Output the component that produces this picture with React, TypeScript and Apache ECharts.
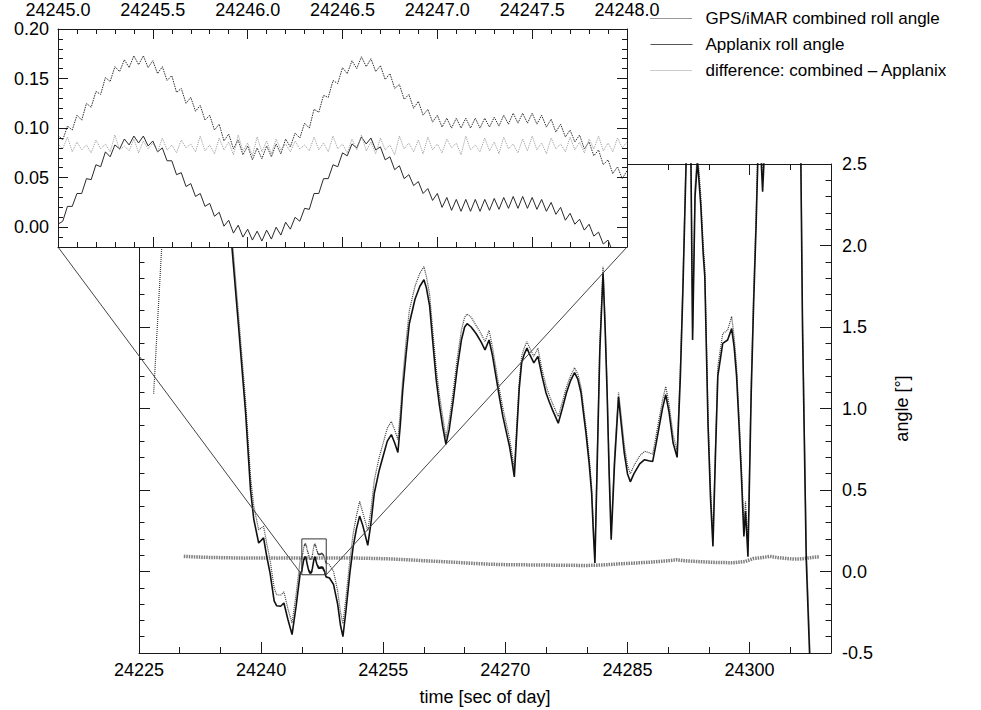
import React, { useEffect, useRef } from "react";
import * as echarts from "echarts";

const FONT = "'Liberation Sans', Arial, Helvetica, sans-serif";

const NAME_COMBINED = "GPS/iMAR combined roll angle";
const NAME_APPLANIX = "Applanix roll angle";
const NAME_DIFF = "difference: combined \u2013 Applanix";

// main plot extents
const TIME_MIN = 24225;
const TIME_MAX = 24310;
const ANGLE_MIN = -0.5;
const ANGLE_MAX = 2.5;

// zoom window shown in the inset
const ZOOM_T0 = 24245.0;
const ZOOM_T1 = 24248.0;
const ZOOM_MIN = -0.02;
const ZOOM_MAX = 0.2;
const ZOOM_STEP = 0.025; // sample spacing of the high-rate data [s]
const zoomAngleTicks = [0, 0.05, 0.1, 0.15, 0.2];

// high-rate samples inside the zoom window, 24245.0 .. 24248.0 s
const zoomCombined = [
  0.093, 0.088, 0.102, 0.098, 0.113, 0.108, 0.125, 0.121, 0.137, 0.134,
  0.151, 0.147, 0.162, 0.157, 0.169, 0.161, 0.173, 0.164, 0.173, 0.161,
  0.168, 0.155, 0.162, 0.148, 0.153, 0.136, 0.140, 0.125, 0.131, 0.117,
  0.123, 0.108, 0.113, 0.098, 0.104, 0.087, 0.094, 0.079, 0.088, 0.073,
  0.082, 0.068, 0.080, 0.069, 0.082, 0.071, 0.084, 0.074, 0.089, 0.081,
  0.095, 0.090, 0.105, 0.100, 0.119, 0.116, 0.133, 0.131, 0.148, 0.145,
  0.161, 0.155, 0.168, 0.160, 0.172, 0.162, 0.170, 0.157, 0.163, 0.149,
  0.155, 0.140, 0.144, 0.129, 0.134, 0.120, 0.127, 0.113, 0.119, 0.106,
  0.113, 0.101, 0.110, 0.100, 0.110, 0.100, 0.110, 0.100, 0.110, 0.100,
  0.110, 0.101, 0.111, 0.102, 0.113, 0.104, 0.115, 0.105, 0.115, 0.105,
  0.115, 0.104, 0.113, 0.101, 0.109, 0.096, 0.104, 0.091, 0.098, 0.086,
  0.093, 0.079, 0.086, 0.072, 0.078, 0.063, 0.068, 0.054, 0.061, 0.049,
  0.057,
];

const zoomApplanix = [
  0.003, 0.006, 0.021, 0.021, 0.034, 0.034, 0.049, 0.048, 0.063, 0.061,
  0.076, 0.071, 0.083, 0.079, 0.089, 0.083, 0.092, 0.085, 0.092, 0.082,
  0.087, 0.076, 0.080, 0.067, 0.067, 0.053, 0.055, 0.041, 0.044, 0.031,
  0.034, 0.021, 0.024, 0.011, 0.015, 0.001, 0.007, -0.006, 0.002, -0.010,
  -0.002, -0.013, -0.004, -0.014, -0.003, -0.012, 0.000, -0.008, 0.005, -0.002,
  0.010, 0.006, 0.019, 0.018, 0.034, 0.034, 0.049, 0.049, 0.063, 0.061,
  0.075, 0.072, 0.084, 0.080, 0.091, 0.084, 0.090, 0.078, 0.081, 0.068,
  0.071, 0.058, 0.062, 0.049, 0.053, 0.042, 0.046, 0.034, 0.039, 0.027,
  0.034, 0.020, 0.030, 0.017, 0.028, 0.016, 0.028, 0.016, 0.028, 0.016,
  0.028, 0.017, 0.029, 0.018, 0.030, 0.019, 0.031, 0.019, 0.031, 0.019,
  0.030, 0.018, 0.028, 0.016, 0.025, 0.013, 0.020, 0.007, 0.014, 0.003,
  0.008, -0.003, 0.003, -0.009, -0.005, -0.017, -0.013, -0.025, -0.021, -0.033,
  -0.029,
];

const zoomDifference = [
  0.084, 0.079, 0.091, 0.076, 0.086, 0.078, 0.083, 0.075, 0.088, 0.079,
  0.084, 0.076, 0.093, 0.078, 0.082, 0.077, 0.089, 0.075, 0.087, 0.079,
  0.085, 0.076, 0.090, 0.078, 0.083, 0.075, 0.088, 0.080, 0.084, 0.076,
  0.092, 0.077, 0.083, 0.074, 0.090, 0.078, 0.086, 0.073, 0.093, 0.077,
  0.085, 0.072, 0.091, 0.076, 0.087, 0.074, 0.089, 0.078, 0.084, 0.076,
  0.087, 0.079, 0.083, 0.077, 0.091, 0.078, 0.085, 0.076, 0.092, 0.079,
  0.084, 0.075, 0.089, 0.078, 0.093, 0.077, 0.086, 0.074, 0.090, 0.078,
  0.083, 0.073, 0.092, 0.079, 0.085, 0.076, 0.088, 0.074, 0.091, 0.078,
  0.084, 0.075, 0.089, 0.080, 0.085, 0.073, 0.092, 0.078, 0.083, 0.076,
  0.090, 0.077, 0.086, 0.074, 0.091, 0.079, 0.084, 0.075, 0.089, 0.077,
  0.092, 0.078, 0.085, 0.074, 0.090, 0.079, 0.084, 0.076, 0.091, 0.078,
  0.086, 0.075, 0.089, 0.079, 0.092, 0.077, 0.085, 0.076, 0.090, 0.080,
  0.086,
];

// roll angle [deg] over the whole pass: before and after the zoom window
const combinedBefore: [number, number][] = [
  [24226.8, 1.09], [24227.3, 1.55], [24227.8, 2.0], [24228.6, 2.6], [24230.5, 3.1],
  [24232.5, 3.3], [24234.5, 2.92], [24235.6, 2.42], [24236.4, 2.07], [24237.2, 1.59],
  [24238.1, 1.04], [24238.7, 0.58], [24239.1, 0.4], [24239.7, 0.256], [24240.3, 0.277],
  [24240.7, 0.17], [24241.1, 0.07], [24241.6, -0.1], [24241.9, -0.142], [24242.4, -0.145],
  [24242.8, -0.125], [24243.3, -0.23], [24243.8, -0.316], [24244.3, -0.14], [24244.8, 0.07],
];

const applanixBefore: [number, number][] = [
  [24230.5, 3.0], [24232.5, 3.2], [24234.5, 2.85], [24235.6, 2.35], [24236.4, 2.0],
  [24237.2, 1.52], [24238.1, 0.97], [24238.7, 0.5], [24239.1, 0.32], [24239.7, 0.175],
  [24240.3, 0.206], [24240.7, 0.09], [24241.1, -0.01], [24241.6, -0.18], [24241.9, -0.21],
  [24242.4, -0.213], [24242.8, -0.193], [24243.3, -0.296], [24243.8, -0.387], [24244.3, -0.213],
  [24244.8, -0.01],
];

const combinedAfter: [number, number][] = [
  [24248.4, 0.04], [24248.9, 0.0], [24249.4, -0.12], [24249.75, -0.25], [24250.05, -0.32],
  [24250.4, -0.17], [24250.9, 0.07], [24251.3, 0.23], [24251.7, 0.34], [24252.1, 0.43],
  [24252.5, 0.36], [24253.1, 0.25], [24253.5, 0.38], [24253.9, 0.56], [24254.5, 0.7],
  [24255.0, 0.79], [24255.5, 0.88], [24256.0, 0.92], [24256.4, 0.87], [24256.8, 0.81],
  [24257.1, 0.98], [24257.4, 1.19], [24257.8, 1.41], [24258.2, 1.6], [24258.9, 1.75],
  [24259.5, 1.83], [24260.0, 1.87], [24260.3, 1.81], [24260.7, 1.7], [24261.1, 1.47],
  [24261.5, 1.25], [24261.9, 1.08], [24262.3, 0.95], [24262.7, 0.82], [24263.1, 0.93],
  [24263.6, 1.11], [24264.1, 1.31], [24264.6, 1.48], [24265.0, 1.56], [24265.3, 1.58],
  [24265.8, 1.56], [24266.4, 1.51], [24267.0, 1.46], [24267.5, 1.41], [24268.0, 1.48],
  [24268.4, 1.38], [24268.9, 1.23], [24269.3, 1.11], [24269.7, 1.0], [24270.1, 0.91],
  [24270.5, 0.82], [24270.8, 0.73], [24271.1, 0.63], [24271.4, 0.9], [24271.7, 1.16],
  [24272.0, 1.32], [24272.3, 1.37], [24272.65, 1.41], [24273.0, 1.37], [24273.5, 1.32],
  [24274.0, 1.37], [24274.5, 1.24], [24275.0, 1.14], [24275.4, 1.08], [24275.8, 1.03],
  [24276.5, 0.95], [24277.0, 1.04], [24277.5, 1.13], [24278.0, 1.2], [24278.5, 1.25],
  [24278.9, 1.21], [24279.3, 1.13], [24279.6, 1.01], [24279.9, 0.89], [24280.3, 0.7],
  [24280.6, 0.52], [24280.8, 0.29], [24281.0, 0.09], [24281.3, 0.74], [24281.6, 1.39],
  [24282.0, 1.87], [24282.25, 1.54], [24282.5, 1.14], [24282.75, 0.64], [24283.0, 0.24],
  [24283.4, 0.7], [24283.9, 1.1], [24284.2, 0.97], [24284.6, 0.78], [24285.0, 0.65],
  [24285.35, 0.6], [24285.8, 0.65], [24286.5, 0.71], [24287.1, 0.737], [24287.6, 0.73],
  [24288.1, 0.72], [24288.5, 0.83], [24288.9, 0.94], [24289.3, 1.05], [24289.7, 1.135],
  [24290.1, 1.03], [24290.6, 0.84], [24291.1, 0.74], [24291.5, 1.26], [24291.8, 1.77],
  [24292.2, 2.56], [24292.5, 2.81], [24292.8, 2.56], [24293.0, 1.48], [24293.3, 2.36],
  [24293.6, 2.58], [24294.0, 2.31], [24294.3, 2.01], [24294.5, 1.87], [24294.9, 0.95],
  [24295.2, 0.51], [24295.5, 0.21], [24295.8, 0.76], [24296.1, 1.26], [24296.7, 1.46],
  [24297.3, 1.48], [24297.8, 1.565], [24298.1, 1.44], [24298.4, 1.26], [24298.7, 0.96],
  [24299.0, 0.64], [24299.3, 0.28], [24299.5, 0.43], [24299.8, 0.16], [24300.2, 1.17],
  [24300.5, 1.72], [24300.8, 2.2], [24301.0, 2.58], [24301.3, 2.73], [24301.6, 2.41],
  [24301.8, 2.63], [24302.5, 3.28], [24304.0, 3.58], [24305.5, 3.08], [24306.3, 2.58],
  [24306.5, 1.58], [24306.96, 0.15], [24307.4, -0.47], [24307.6, -0.82],
];

const applanixAfter: [number, number][] = [
  [24248.4, -0.04], [24248.9, -0.08], [24249.4, -0.2], [24249.75, -0.33], [24250.05, -0.4],
  [24250.4, -0.25], [24250.9, -0.01], [24251.3, 0.15], [24251.7, 0.26], [24252.1, 0.34],
  [24252.5, 0.28], [24253.1, 0.16], [24253.5, 0.3], [24253.9, 0.48], [24254.5, 0.62],
  [24255.0, 0.71], [24255.5, 0.8], [24256.0, 0.84], [24256.4, 0.79], [24256.8, 0.73],
  [24257.1, 0.9], [24257.4, 1.115], [24257.8, 1.33], [24258.2, 1.52], [24258.9, 1.67],
  [24259.5, 1.75], [24260.0, 1.79], [24260.3, 1.74], [24260.7, 1.63], [24261.1, 1.4],
  [24261.5, 1.18], [24261.9, 1.02], [24262.3, 0.89], [24262.7, 0.78], [24263.1, 0.87],
  [24263.6, 1.05], [24264.1, 1.25], [24264.6, 1.42], [24265.0, 1.5], [24265.3, 1.52],
  [24265.8, 1.5], [24266.4, 1.46], [24267.0, 1.41], [24267.5, 1.36], [24268.0, 1.42],
  [24268.4, 1.33], [24268.9, 1.18], [24269.3, 1.06], [24269.7, 0.95], [24270.1, 0.86],
  [24270.5, 0.77], [24270.8, 0.68], [24271.1, 0.58], [24271.4, 0.85], [24271.7, 1.12],
  [24272.0, 1.28], [24272.3, 1.33], [24272.65, 1.37], [24273.0, 1.33], [24273.5, 1.28],
  [24274.0, 1.32], [24274.5, 1.2], [24275.0, 1.095], [24275.4, 1.04], [24275.8, 0.99],
  [24276.5, 0.91], [24277.0, 1.0], [24277.5, 1.095], [24278.0, 1.17], [24278.5, 1.22],
  [24278.9, 1.18], [24279.3, 1.095], [24279.6, 0.97], [24279.9, 0.85], [24280.3, 0.66],
  [24280.6, 0.48], [24280.8, 0.25], [24281.0, 0.052], [24281.3, 0.7], [24281.6, 1.35],
  [24282.0, 1.83], [24282.25, 1.5], [24282.5, 1.095], [24282.75, 0.6], [24283.0, 0.195],
  [24283.4, 0.65], [24283.9, 1.07], [24284.2, 0.92], [24284.6, 0.73], [24285.0, 0.6],
  [24285.35, 0.55], [24285.8, 0.6], [24286.5, 0.66], [24287.1, 0.686], [24287.6, 0.68],
  [24288.1, 0.675], [24288.5, 0.78], [24288.9, 0.89], [24289.3, 1.0], [24289.7, 1.085],
  [24290.1, 0.98], [24290.6, 0.79], [24291.1, 0.7], [24291.5, 1.2], [24291.8, 1.71],
  [24292.2, 2.5], [24292.5, 2.75], [24292.8, 2.5], [24293.0, 1.42], [24293.3, 2.3],
  [24293.6, 2.52], [24294.0, 2.25], [24294.3, 1.95], [24294.5, 1.81], [24294.9, 0.89],
  [24295.2, 0.45], [24295.5, 0.154], [24295.8, 0.7], [24296.1, 1.2], [24296.7, 1.4],
  [24297.3, 1.42], [24297.8, 1.49], [24298.1, 1.38], [24298.4, 1.2], [24298.7, 0.9],
  [24299.0, 0.58], [24299.3, 0.215], [24299.5, 0.37], [24299.8, 0.09], [24300.2, 1.095],
  [24300.5, 1.65], [24300.8, 2.12], [24301.0, 2.5], [24301.3, 2.65], [24301.6, 2.33],
  [24301.8, 2.55], [24302.5, 3.2], [24304.0, 3.5], [24305.5, 3.0], [24306.3, 2.5],
  [24306.5, 1.5], [24306.96, 0.07], [24307.4, -0.55], [24307.6, -0.9],
];

// combined minus Applanix over the whole pass
const differenceMain: [number, number][] = [
  [24230.5, 0.093], [24232, 0.089], [24234, 0.086], [24236, 0.084], [24238, 0.082],
  [24240, 0.083], [24242, 0.082], [24244, 0.083], [24246, 0.082], [24248, 0.083],
  [24250, 0.083], [24252, 0.082], [24254, 0.08], [24256, 0.077], [24258, 0.072],
  [24260, 0.066], [24262, 0.061], [24264, 0.056], [24266, 0.05], [24268, 0.045],
  [24270, 0.042], [24272, 0.041], [24274, 0.04], [24276, 0.039], [24278, 0.038],
  [24280, 0.037], [24282, 0.04], [24284, 0.047], [24286, 0.052], [24288, 0.058],
  [24290, 0.066], [24291, 0.072], [24292, 0.066], [24294, 0.06], [24296, 0.055],
  [24298, 0.054], [24299.5, 0.062], [24300.5, 0.08], [24301.5, 0.085], [24302.5, 0.093],
  [24303.5, 0.085], [24304.5, 0.08], [24305.5, 0.076], [24306.5, 0.078], [24307.5, 0.085],
  [24308.5, 0.09],
];

const zoomPairs = (vals: number[]): [number, number][] =>
  vals.map((v, i) => [ZOOM_T0 + i * ZOOM_STEP, v]);

const INK = "#1a1a1a";
const tickStyle = { color: INK, width: 1 };
const frameLine = { show: true, onZero: false, lineStyle: { color: INK, width: 1 } };
const noLine = { show: false, onZero: false };
const noSplit = { show: false };
const labelFont = { color: "#000", fontFamily: FONT, fontSize: 18 };

function buildOption(): any {
  const mainTime = {
    gridIndex: 0,
    type: "value",
    min: TIME_MIN,
    max: TIME_MAX,
    splitLine: noSplit,
  };
  const zoomTime = {
    gridIndex: 1,
    type: "value",
    min: ZOOM_T0,
    max: ZOOM_T1,
    interval: 0.5,
    splitLine: noSplit,
    axisLine: frameLine,
    axisTick: { inside: true, length: 10, lineStyle: tickStyle },
    minorTick: { show: true, splitNumber: 5, length: 5, lineStyle: tickStyle },
    z: 11,
  };
  const mainAngle = {
    gridIndex: 0,
    type: "value",
    min: ANGLE_MIN,
    max: ANGLE_MAX,
    interval: 0.5,
    splitLine: noSplit,
    axisLine: frameLine,
    axisTick: { inside: true, length: 11, lineStyle: tickStyle },
    minorTick: { show: true, splitNumber: 5, length: 5.5, lineStyle: tickStyle },
  };
  const zoomAngleMajor = {
    gridIndex: 1,
    type: "value",
    min: ZOOM_MIN,
    max: ZOOM_MAX,
    splitLine: noSplit,
    axisLine: frameLine,
    axisTick: { inside: true, length: 10, lineStyle: tickStyle, customValues: zoomAngleTicks },
    z: 11,
  };
  const zoomAngleMinor = {
    gridIndex: 1,
    type: "value",
    min: ZOOM_MIN,
    max: ZOOM_MAX,
    interval: 0.01,
    splitLine: noSplit,
    axisLine: noLine,
    axisTick: { inside: true, length: 5, lineStyle: tickStyle },
    axisLabel: { show: false },
    z: 11,
  };

  return {
    animation: false,
    backgroundColor: "#fff",
    textStyle: { fontFamily: FONT },
    grid: [
      { left: 139, top: 164, width: 692, height: 489, containLabel: false, outerBoundsMode: "none" },
      { left: 58, top: 29, width: 569, height: 218, containLabel: false, outerBoundsMode: "none" },
    ],
    legend: {
      show: true,
      orient: "vertical",
      left: 645,
      top: 5,
      itemWidth: 42,
      itemHeight: 16,
      itemGap: 9,
      selectedMode: false,
      z: 12,
      itemStyle: { opacity: 0 },
      textStyle: { fontFamily: FONT, fontSize: 17, color: "#000", padding: [0, 0, 0, 8] },
      data: [
        { name: NAME_COMBINED, lineStyle: { color: "#333", width: 1, type: [1, 1] } },
        { name: NAME_APPLANIX, lineStyle: { color: "#555", width: 1, type: "solid" } },
        { name: NAME_DIFF, lineStyle: { color: "#999", width: 1, type: [1, 1] } },
      ],
    },
    xAxis: [
      {
        ...mainTime,
        position: "bottom",
        interval: 15,
        axisLine: frameLine,
        axisTick: { inside: true, length: 11, lineStyle: tickStyle },
        axisLabel: { ...labelFont, margin: 8, showMaxLabel: false, formatter: (v: number) => String(v) },
        name: "time [sec of day]",
        nameLocation: "middle",
        nameGap: 35,
        nameTextStyle: { ...labelFont },
      },
      {
        ...mainTime,
        position: "bottom",
        interval: 5,
        axisLine: noLine,
        axisTick: { inside: true, length: 6, lineStyle: tickStyle },
        axisLabel: { show: false },
      },
      {
        ...mainTime,
        position: "top",
        interval: 15,
        axisLine: frameLine,
        axisTick: { inside: true, length: 11, lineStyle: tickStyle },
        axisLabel: { show: false },
      },
      {
        ...mainTime,
        position: "top",
        interval: 5,
        axisLine: noLine,
        axisTick: { inside: true, length: 6, lineStyle: tickStyle },
        axisLabel: { show: false },
      },
      {
        ...zoomTime,
        position: "top",
        axisLabel: {
          ...labelFont,
          lineHeight: 16,
          margin: 11,
          formatter: (v: number) => v.toFixed(1),
        },
      },
      {
        ...zoomTime,
        position: "bottom",
        axisLabel: { show: false },
      },
    ],
    yAxis: [
      {
        ...mainAngle,
        position: "right",
        axisLabel: { ...labelFont, margin: 11, formatter: (v: number) => v.toFixed(1) },
        name: "angle [\u00b0]",
        nameLocation: "middle",
        nameRotate: 90,
        nameGap: 62,
        nameTextStyle: { ...labelFont },
      },
      {
        ...mainAngle,
        position: "left",
        axisLabel: { show: false },
      },
      {
        ...zoomAngleMajor,
        position: "left",
        axisLabel: {
          ...labelFont,
          lineHeight: 16,
          margin: 9,
          customValues: zoomAngleTicks,
          formatter: (v: number) => v.toFixed(2),
        },
      },
      { ...zoomAngleMinor, position: "left" },
      { ...zoomAngleMajor, position: "right", axisLabel: { show: false } },
      { ...zoomAngleMinor, position: "right" },
    ],
    series: [
      // inset (zoom window)
      {
        name: NAME_COMBINED,
        type: "line",
        xAxisIndex: 4,
        yAxisIndex: 2,
        data: zoomPairs(zoomCombined),
        symbol: "none",
        z: 10,
        itemStyle: { color: "#2e2e2e" },
        lineStyle: { color: "#2e2e2e", width: 1, type: [1.5, 1] },
      },
      {
        name: NAME_APPLANIX,
        type: "line",
        xAxisIndex: 4,
        yAxisIndex: 2,
        data: zoomPairs(zoomApplanix),
        symbol: "none",
        z: 10,
        itemStyle: { color: "#2a2a2a" },
        lineStyle: { color: "#2a2a2a", width: 1 },
      },
      {
        name: NAME_DIFF,
        type: "line",
        xAxisIndex: 4,
        yAxisIndex: 2,
        data: zoomPairs(zoomDifference),
        symbol: "none",
        z: 10,
        itemStyle: { color: "#9a9a9a" },
        lineStyle: { color: "#9a9a9a", width: 1, type: [1, 1] },
      },
      // main plot
      {
        name: NAME_COMBINED,
        type: "line",
        xAxisIndex: 0,
        yAxisIndex: 0,
        data: [...combinedBefore, ...zoomPairs(zoomCombined), ...combinedAfter],
        symbol: "none",
        z: 2,
        itemStyle: { color: "#3a3a3a" },
        lineStyle: { color: "#3a3a3a", width: 1.2, type: [1, 1] },
      },
      {
        name: NAME_APPLANIX,
        type: "line",
        xAxisIndex: 0,
        yAxisIndex: 0,
        data: [...applanixBefore, ...zoomPairs(zoomApplanix), ...applanixAfter],
        symbol: "none",
        z: 3,
        itemStyle: { color: "#111" },
        lineStyle: { color: "#111", width: 1.6 },
      },
      {
        name: NAME_DIFF,
        type: "line",
        xAxisIndex: 0,
        yAxisIndex: 0,
        data: differenceMain,
        symbol: "none",
        z: 2,
        itemStyle: { color: "#7e7e7e" },
        lineStyle: { color: "#7e7e7e", width: 3.5, type: [1.5, 1] },
      },
      // outline of the zoom window in the main plot
      {
        name: "zoom window",
        type: "line",
        xAxisIndex: 0,
        yAxisIndex: 0,
        data: [
          [ZOOM_T0, ZOOM_MIN],
          [ZOOM_T1, ZOOM_MIN],
          [ZOOM_T1, ZOOM_MAX],
          [ZOOM_T0, ZOOM_MAX],
          [ZOOM_T0, ZOOM_MIN],
        ],
        symbol: "none",
        z: 4,
        silent: true,
        itemStyle: { color: "#333" },
        lineStyle: { color: "#333", width: 1 },
      },
    ],
  };
}

export default function App() {
  const ref = useRef<HTMLDivElement>(null);

  useEffect(() => {
    if (!ref.current) return;
    const chart = echarts.init(ref.current, undefined, { renderer: "svg" });
    chart.setOption(buildOption());

    // white panel behind the inset and the two connector lines to the zoom window
    const boxIdx = 6;
    const insetIdx = 0;
    const boxLeft = chart.convertToPixel({ seriesIndex: boxIdx }, [ZOOM_T0, ZOOM_MIN]) as number[];
    const boxRight = chart.convertToPixel({ seriesIndex: boxIdx }, [ZOOM_T1, ZOOM_MIN]) as number[];
    const inLeft = chart.convertToPixel({ seriesIndex: insetIdx }, [ZOOM_T0, ZOOM_MIN]) as number[];
    const inRight = chart.convertToPixel({ seriesIndex: insetIdx }, [ZOOM_T1, ZOOM_MIN]) as number[];
    const inTop = chart.convertToPixel({ seriesIndex: insetIdx }, [ZOOM_T0, ZOOM_MAX]) as number[];

    chart.setOption({
      graphic: [
        {
          type: "rect",
          z: 5,
          silent: true,
          shape: {
            x: inTop[0],
            y: inTop[1],
            width: inRight[0] - inTop[0],
            height: inRight[1] - inTop[1],
          },
          style: { fill: "#fff" },
        },
        {
          type: "line",
          z: 6,
          silent: true,
          shape: { x1: inLeft[0], y1: inLeft[1], x2: boxLeft[0], y2: boxLeft[1] },
          style: { stroke: "#444", lineWidth: 1 },
        },
        {
          type: "line",
          z: 6,
          silent: true,
          shape: { x1: inRight[0], y1: inRight[1], x2: boxRight[0], y2: boxRight[1] },
          style: { stroke: "#444", lineWidth: 1 },
        },
      ],
    });

    return () => chart.dispose();
  }, []);

  return (
    <div
      ref={ref}
      style={{ position: "fixed", left: 0, top: 0, width: 981, height: 710, background: "#fff" }}
    />
  );
}
